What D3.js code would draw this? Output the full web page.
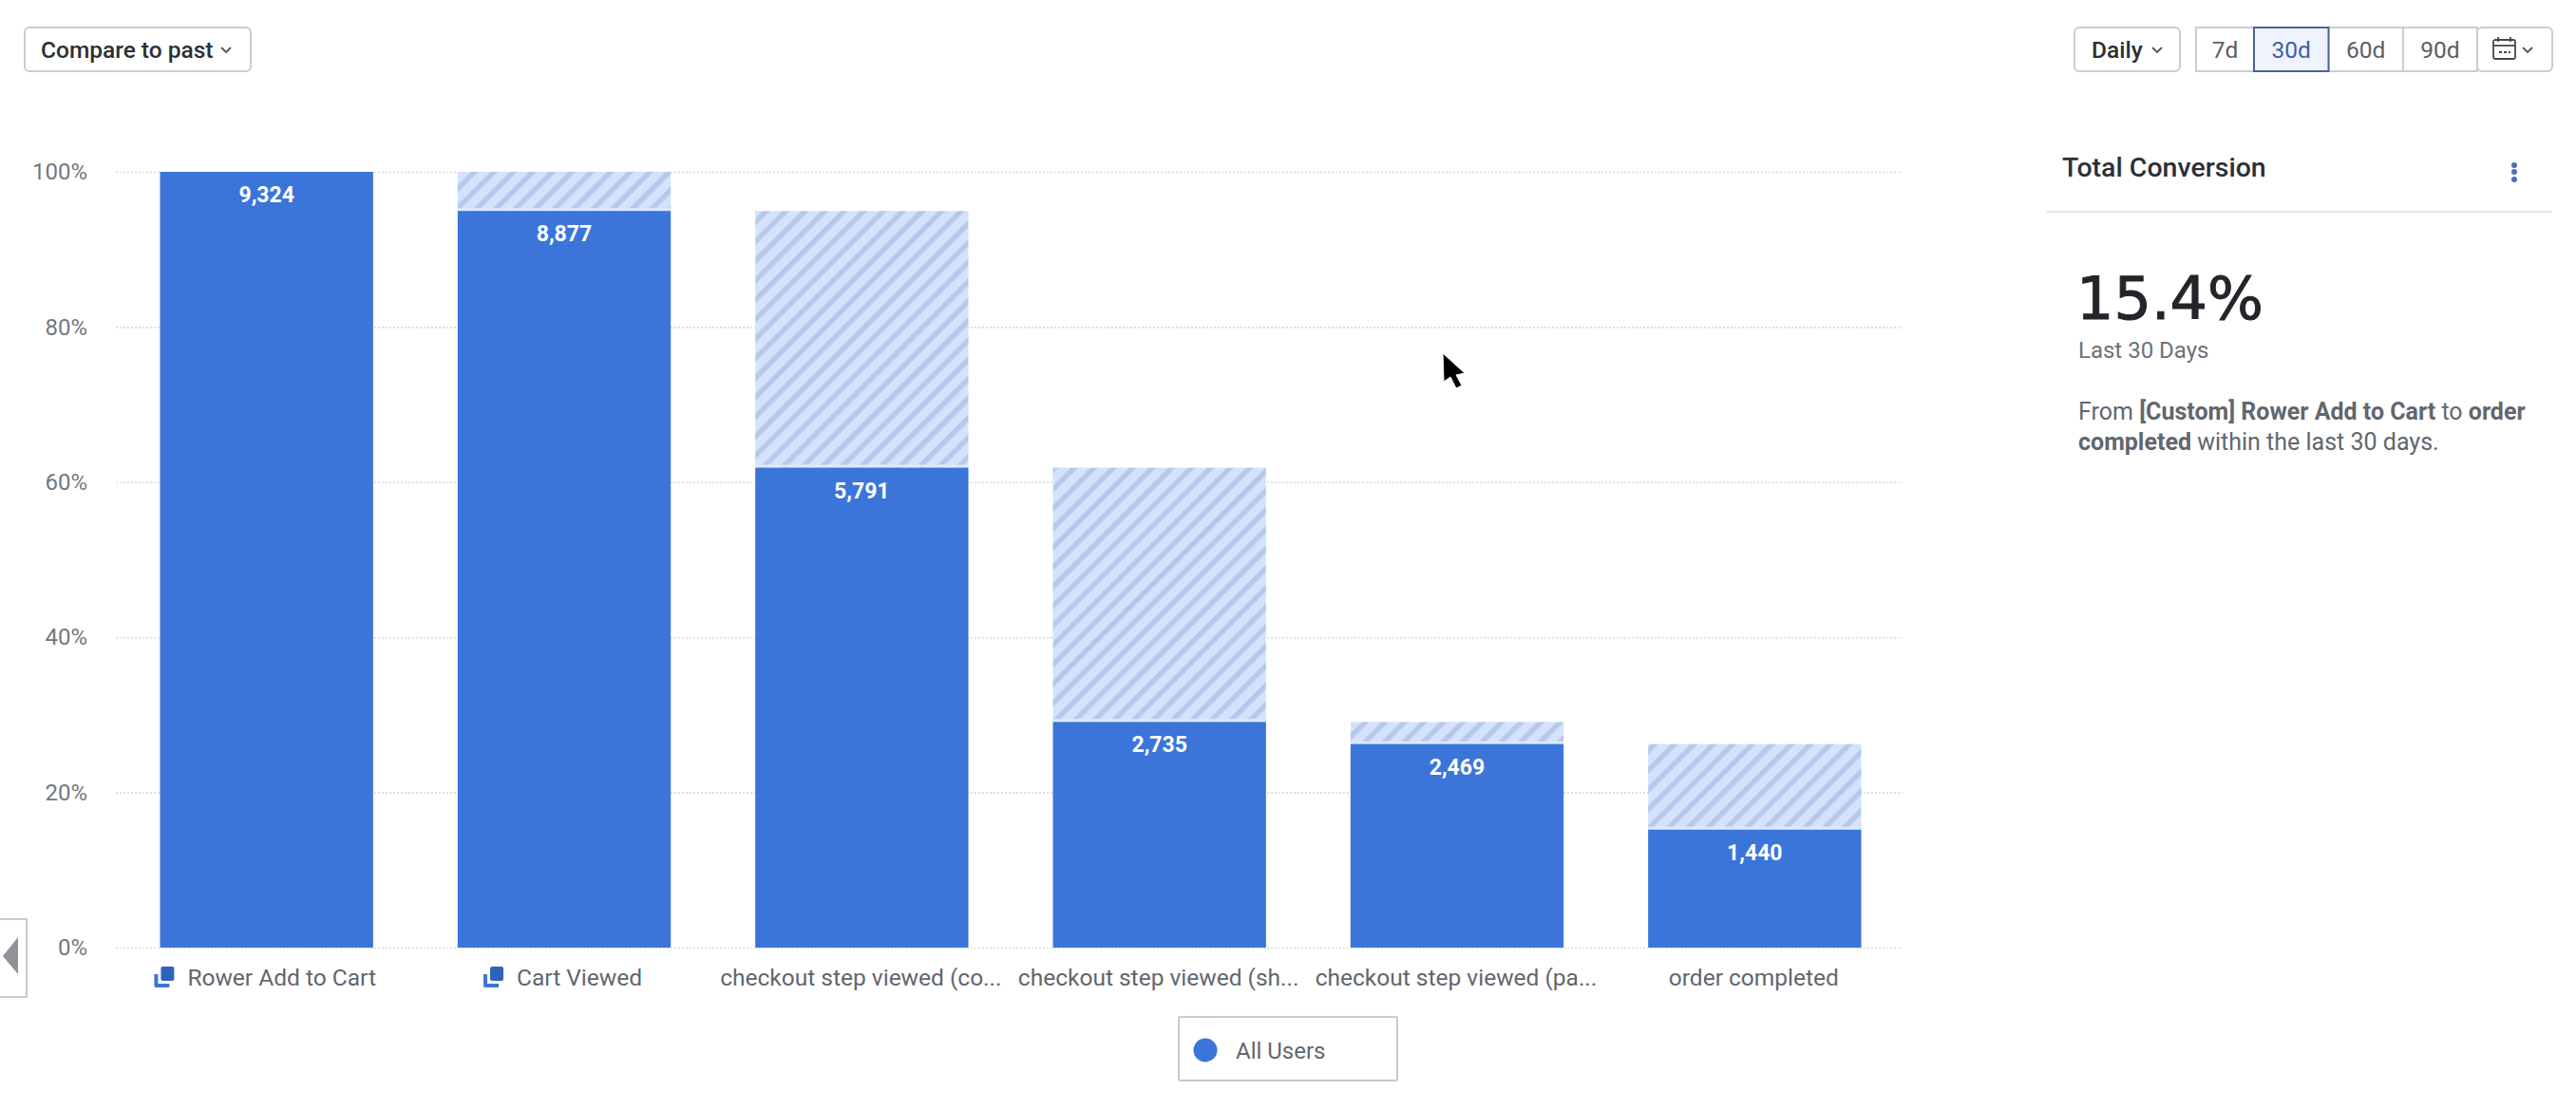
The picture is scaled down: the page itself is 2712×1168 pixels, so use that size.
<!DOCTYPE html>
<html>
<head>
<meta charset="utf-8">
<title>Funnel conversion</title>
<script src="https://cdn.jsdelivr.net/npm/d3@7"></script>
<style>
  html, body { margin: 0; padding: 0; background: #fff; }
  svg { display: block; }
  text { font-family: Roboto, "Noto Sans", sans-serif; }
</style>
</head>
<body>
<svg id="chart" width="2712" height="1168"></svg>
<script>
// chart data
const stepLabels = [
  'Rower Add to Cart',
  'Cart Viewed',
  'checkout step viewed (co...',
  'checkout step viewed (sh...',
  'checkout step viewed (pa...',
  'order completed'
];
const stepHasIcon = [true, true, false, false, false, false];
const stepCounts = [9324, 8877, 5791, 2735, 2469, 1440];
const yTicks = [0, 20, 40, 60, 80, 100];
const rangeButtons = ['7d', '30d', '60d', '90d'];
const selectedRange = '30d';

const BLUE = '#3b75d9';
const TEXT_DARK = '#2b2f36';
const TEXT_GREY = '#62666e';
const BORDER = '#c9cdd3';
const DIGIT_FONT = '"DejaVu Sans", sans-serif';

const svg = d3.select('#chart');

// hatch for the drop-off part of each bar
const defs = svg.append('defs');
const hatch = defs.append('pattern')
  .attr('id', 'dropoff')
  .attr('patternUnits', 'userSpaceOnUse')
  .attr('width', 14.5)
  .attr('height', 14.5)
  .attr('patternTransform', 'rotate(45)');
hatch.append('rect').attr('width', 14.5).attr('height', 14.5).attr('fill', '#d4e3fb');
hatch.append('rect').attr('width', 5.5).attr('height', 14.5).attr('fill', '#b6c9ec');

// scales
const x = d3.scaleBand()
  .domain(stepLabels)
  .range([124, 2004])
  .paddingInner(0.284)
  .paddingOuter(0.142);

const y = d3.scaleLinear().domain([0, 100]).range([998, 181]);

const share = i => stepCounts[i] / stepCounts[0] * 100;
// below the first step a thin light line sits on top of the solid bar
const SEPARATOR = 2;
const barTop = i => y(share(i)) + (i > 0 ? SEPARATOR : 0);

// y axis + gridlines
const yAxis = svg.append('g')
  .attr('transform', 'translate(122,0)')
  .call(d3.axisLeft(y).tickValues(yTicks).tickFormat(d => d + '%').tickSize(-1881).tickPadding(30));
yAxis.select('.domain').remove();
yAxis.selectAll('.tick line')
  .attr('stroke', '#d9dce1')
  .attr('stroke-width', 1.6)
  .attr('stroke-dasharray', '2 2');
yAxis.selectAll('.tick text')
  .attr('fill', '#74787f')
  .style('font-size', '24px');

// bars
const bars = svg.append('g').selectAll('g')
  .data(stepLabels)
  .join('g');

// hatched part goes from the previous step down to this step
bars.filter((d, i) => i > 0).append('rect')
  .attr('x', d => x(d))
  .attr('width', x.bandwidth())
  .attr('y', d => barTop(stepLabels.indexOf(d) - 1))
  .attr('height', d => {
    const i = stepLabels.indexOf(d);
    return barTop(i) - barTop(i - 1);
  })
  .attr('fill', 'url(#dropoff)');

bars.filter((d, i) => i > 0).append('line')
  .attr('x1', d => x(d))
  .attr('x2', d => x(d) + x.bandwidth())
  .attr('y1', d => barTop(stepLabels.indexOf(d)) - 1.5)
  .attr('y2', d => barTop(stepLabels.indexOf(d)) - 1.5)
  .attr('stroke', '#dde9fd')
  .attr('stroke-width', 3);

bars.append('rect')
  .attr('x', d => x(d))
  .attr('width', x.bandwidth())
  .attr('y', d => barTop(stepLabels.indexOf(d)))
  .attr('height', d => y(0) - barTop(stepLabels.indexOf(d)))
  .attr('fill', BLUE);

bars.append('text')
  .attr('x', d => x(d) + x.bandwidth() / 2)
  .attr('y', d => barTop(stepLabels.indexOf(d)) + 32)
  .attr('text-anchor', 'middle')
  .attr('fill', '#fff')
  .style('font-size', '23px')
  .style('font-weight', 700)
  .text(d => d3.format(',')(stepCounts[stepLabels.indexOf(d)]));

// x axis labels
const xAxis = svg.append('g')
  .attr('transform', 'translate(0,998)')
  .call(d3.axisBottom(x).tickSize(0).tickPadding(22));
xAxis.select('.domain').remove();
xAxis.selectAll('.tick text')
  .attr('fill', TEXT_GREY)
  .attr('dy', 0)
  .attr('y', 40)
  .attr('dx', (d, i) => stepHasIcon[i] ? 16 : -1)
  .style('font-size', '24.5px');

// little stacked square icon in front of the first two labels
xAxis.selectAll('.tick').filter((d, i) => stepHasIcon[i]).each(function () {
  const label = d3.select(this).select('text').node();
  const ix = label.getBBox().x - 35;
  const g = d3.select(this).append('g').attr('transform', `translate(${ix},20)`);
  g.append('path').attr('d', 'M0 8 h4 v10 h12 v4 H2 a2 2 0 0 1 -2 -2 Z').attr('fill', BLUE);
  g.append('rect').attr('x', 7).attr('y', 0).attr('width', 14).attr('height', 15).attr('rx', 2).attr('fill', '#2f62bd');
});

// dropdown buttons
function chevron(cx, cy) {
  svg.append('path')
    .attr('d', `M${cx - 5} ${cy - 3} L${cx} ${cy + 2} L${cx + 5} ${cy - 3}`)
    .attr('fill', 'none').attr('stroke', '#555').attr('stroke-width', 1.8);
}

function dropdownButton(bx, by, w, h, label, textX, chevX) {
  svg.append('rect').attr('x', bx).attr('y', by).attr('width', w).attr('height', h)
    .attr('rx', 5).attr('fill', '#fff').attr('stroke', BORDER).attr('stroke-width', 2);
  svg.append('text').attr('x', textX).attr('y', by + 32)
    .attr('fill', TEXT_DARK).style('font-size', '24.5px').style('font-weight', 500).text(label);
  chevron(chevX, by + 24);
}

dropdownButton(26, 29, 238, 46, 'Compare to past', 43, 238);
dropdownButton(2184, 29, 111, 46, 'Daily', 2202, 2271);

// range buttons
const rangeEdges = [2312, 2373, 2451.5, 2530, 2608];
svg.append('g').selectAll('rect')
  .data(rangeButtons)
  .join('rect')
  .attr('x', (d, i) => rangeEdges[i])
  .attr('y', 29)
  .attr('width', (d, i) => rangeEdges[i + 1] - rangeEdges[i])
  .attr('height', 46)
  .attr('fill', '#fff')
  .attr('stroke', BORDER)
  .attr('stroke-width', 2);

svg.append('rect').attr('x', 2373).attr('y', 29).attr('width', 78.5).attr('height', 46)
  .attr('fill', '#eef3fd').attr('stroke', '#4a6394').attr('stroke-width', 2);

svg.append('g').selectAll('text')
  .data(rangeButtons)
  .join('text')
  .attr('x', (d, i) => (rangeEdges[i] + rangeEdges[i + 1]) / 2)
  .attr('y', 61)
  .attr('text-anchor', 'middle')
  .attr('fill', d => d === selectedRange ? '#3f5f9e' : '#5a5e66')
  .style('font-size', '24.5px')
  .text(d => d);

// calendar button
svg.append('rect').attr('x', 2608).attr('y', 29).attr('width', 79).attr('height', 46)
  .attr('rx', 5).attr('fill', '#fff').attr('stroke', BORDER).attr('stroke-width', 2);
const cal = svg.append('g').attr('transform', 'translate(2625,42)').attr('fill', 'none').attr('stroke', '#44484f').attr('stroke-width', 1.8);
cal.append('rect').attr('width', 23).attr('height', 20).attr('rx', 2);
cal.append('line').attr('x1', 0).attr('x2', 23).attr('y1', 6).attr('y2', 6);
cal.append('line').attr('x1', 5).attr('x2', 5).attr('y1', -3).attr('y2', 2);
cal.append('line').attr('x1', 18).attr('x2', 18).attr('y1', -3).attr('y2', 2);
cal.append('line').attr('x1', 6).attr('x2', 18).attr('y1', 13).attr('y2', 13).attr('stroke-dasharray', '3 2');
chevron(2661, 53);

// side panel
svg.append('text').attr('x', 2171).attr('y', 186).attr('fill', TEXT_DARK)
  .style('font-size', '28.5px').style('font-weight', 500).text('Total Conversion');
svg.append('g').selectAll('circle')
  .data([174, 181, 189])
  .join('circle')
  .attr('cx', 2647).attr('cy', d => d).attr('r', 3).attr('fill', '#4a6fb5');
svg.append('line').attr('x1', 2155).attr('x2', 2687).attr('y1', 223).attr('y2', 223)
  .attr('stroke', '#e3e5e8').attr('stroke-width', 2);

svg.append('text').attr('x', 2186).attr('y', 336).attr('fill', '#22252a')
  .attr('stroke', '#22252a').attr('stroke-width', 1)
  .style('font-family', DIGIT_FONT)
  .style('font-size', '62px').text('15.4%');
svg.append('text').attr('x', 2188).attr('y', 377).attr('fill', '#6d7178')
  .style('font-size', '24px').text('Last 30 Days');

const line1 = svg.append('text').attr('x', 2188).attr('y', 442).attr('fill', TEXT_GREY).style('font-size', '25px');
line1.append('tspan').text('From ');
line1.append('tspan').style('font-weight', 700).text('[Custom] Rower Add to Cart');
line1.append('tspan').text(' to ');
line1.append('tspan').style('font-weight', 700).text('order');
const line2 = svg.append('text').attr('x', 2188).attr('y', 474).attr('fill', TEXT_GREY).style('font-size', '25px');
line2.append('tspan').style('font-weight', 700).text('completed');
line2.append('tspan').text(' within the last 30 days.');

// legend
svg.append('rect').attr('x', 1241).attr('y', 1071).attr('width', 230).attr('height', 67)
  .attr('rx', 2).attr('fill', '#fff').attr('stroke', '#c6c9ce').attr('stroke-width', 2);
svg.append('circle').attr('cx', 1269).attr('cy', 1106).attr('r', 12.5).attr('fill', BLUE);
svg.append('text').attr('x', 1301).attr('y', 1115).attr('fill', TEXT_GREY)
  .style('font-size', '24px').text('All Users');

// collapse tab on the left
svg.append('rect').attr('x', -4).attr('y', 968).attr('width', 32).attr('height', 82)
  .attr('fill', '#fff').attr('stroke', '#c9cbcf').attr('stroke-width', 2);
svg.append('path').attr('d', 'M3 1007 L19 987 V1026 Z').attr('fill', '#8f9296');

// mouse pointer from the screen capture
svg.append('path')
  .attr('d', 'M1519 372 L1542 393 L1533 395 L1539 406 L1533 409 L1527 397 L1520 402 Z')
  .attr('fill', '#000').attr('stroke', '#fff').attr('stroke-width', 1);
</script>
</body>
</html>
